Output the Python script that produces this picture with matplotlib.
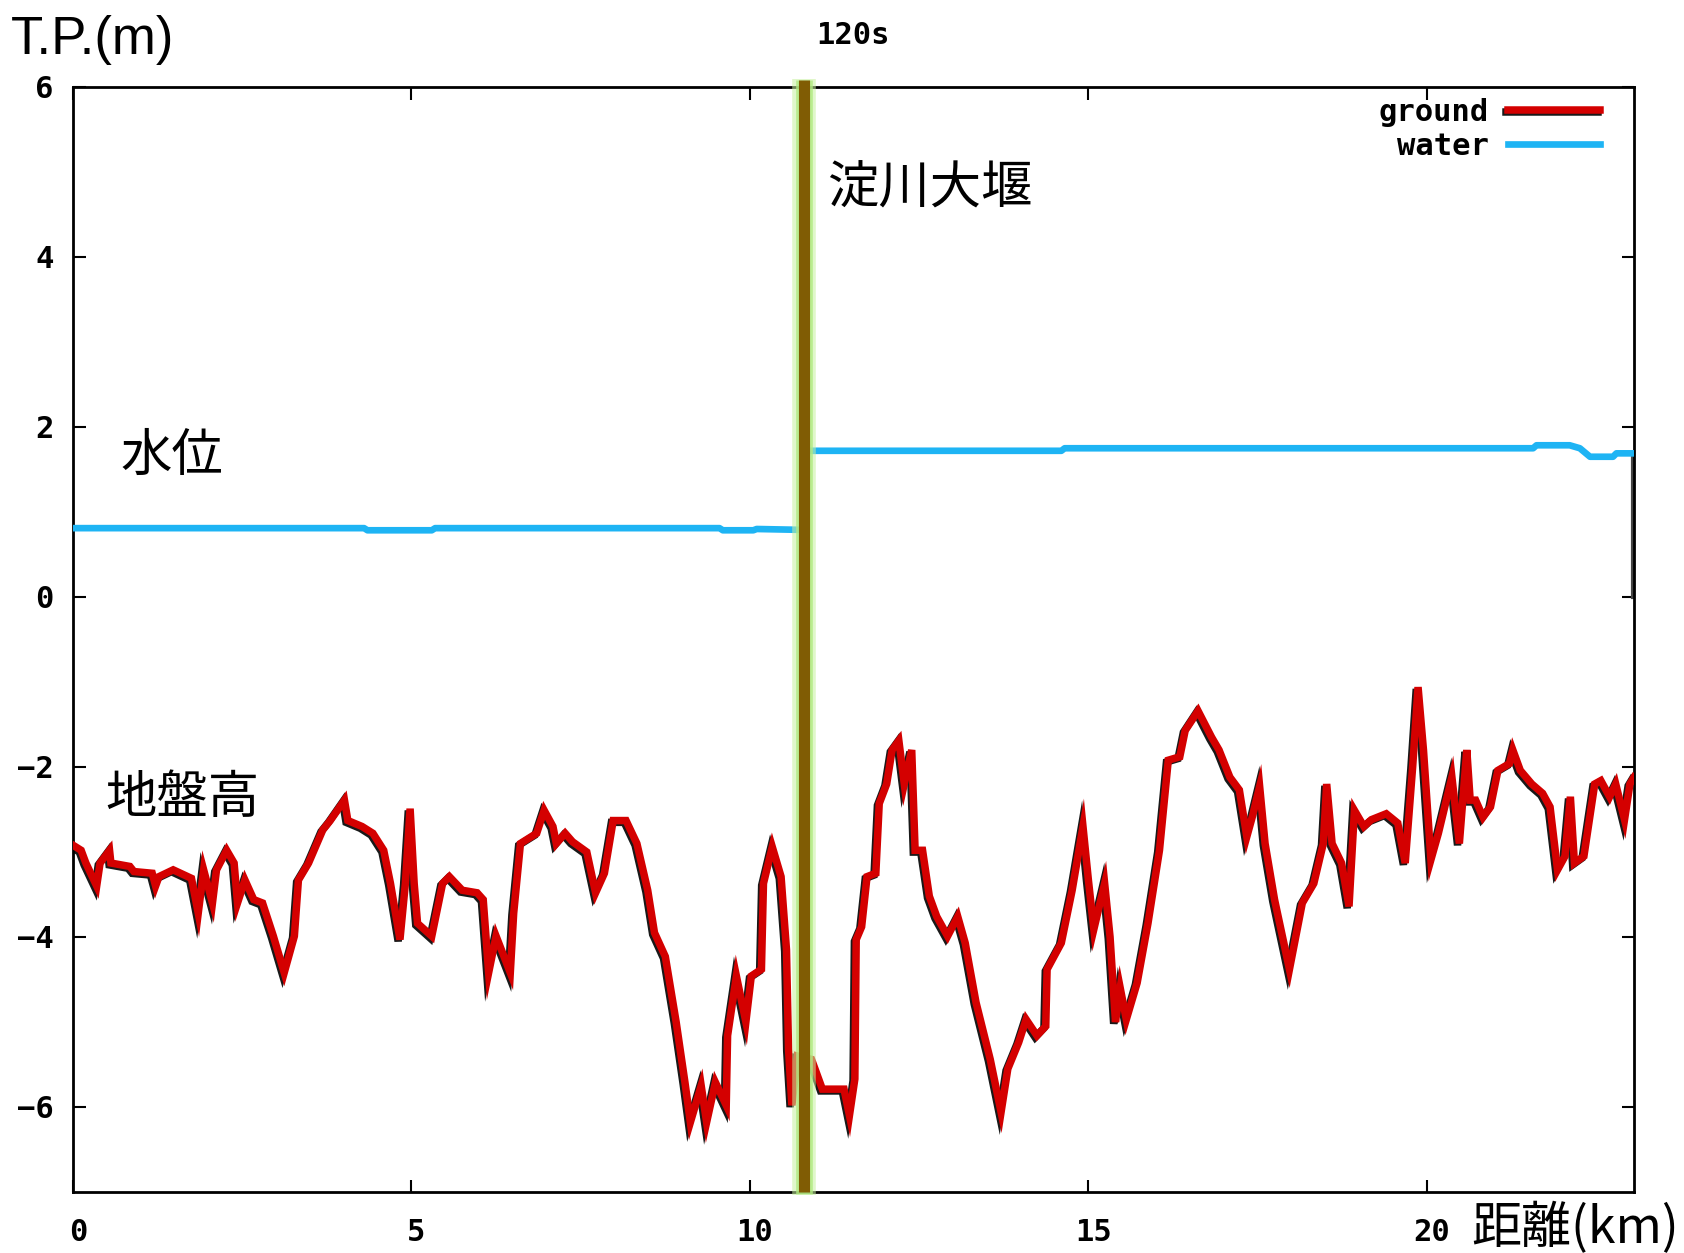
import numpy as np
import matplotlib
matplotlib.use('Agg')
import matplotlib.pyplot as plt
import matplotlib.patheffects as pe
import matplotlib.transforms as mtransforms

plt.rcParams['font.family'] = ['DejaVu Sans Mono']

# distance along the river (km) and ground height T.P.(m)
ground_km = [0.0, 0.12, 0.19, 0.35, 0.4, 0.54, 0.56, 0.84, 0.9, 1.17, 1.22, 1.27,
             1.48, 1.75, 1.85, 1.93, 2.06, 2.12, 2.27, 2.38, 2.43, 2.54, 2.67, 2.8,
             2.96, 3.12, 3.27, 3.33, 3.48, 3.69, 3.8, 4.01, 4.06, 4.27, 4.43, 4.59,
             4.69, 4.83, 4.91, 4.98, 5.04, 5.09, 5.3, 5.46, 5.56, 5.75, 5.97, 6.06,
             6.14, 6.25, 6.46, 6.51, 6.61, 6.85, 6.96, 7.09, 7.14, 7.27, 7.38, 7.59,
             7.72, 7.85, 7.98, 8.17, 8.33, 8.49, 8.59, 8.75, 8.91, 9.04, 9.12, 9.28,
             9.36, 9.49, 9.65, 9.67, 9.8, 9.94, 10.02, 10.17, 10.2, 10.33, 10.46, 10.54,
             10.57, 10.62, 10.7, 10.91, 11.07, 11.39, 11.47, 11.55, 11.57, 11.65, 11.73, 11.86,
             11.91, 12.02, 12.1, 12.2, 12.28, 12.39, 12.44, 12.55, 12.65, 12.76, 12.92, 13.07,
             13.18, 13.34, 13.55, 13.71, 13.81, 13.97, 14.08, 14.24, 14.37, 14.39, 14.6, 14.76,
             14.92, 15.0, 15.08, 15.24, 15.32, 15.4, 15.47, 15.56, 15.72, 15.88, 16.05, 16.18,
             16.35, 16.43, 16.62, 16.82, 16.93, 17.09, 17.23, 17.34, 17.42, 17.53, 17.61, 17.75,
             17.97, 18.16, 18.33, 18.47, 18.52, 18.6, 18.74, 18.85, 18.93, 19.07, 19.18, 19.4,
             19.57, 19.68, 19.79, 19.87, 19.95, 20.06, 20.17, 20.37, 20.48, 20.59, 20.64, 20.72,
             20.83, 20.94, 21.05, 21.22, 21.27, 21.38, 21.55, 21.71, 21.82, 21.93, 22.04, 22.12,
             22.18, 22.32, 22.48, 22.57, 22.7, 22.79, 22.92, 23.0, 23.06]
ground_tp = [-2.92, -2.98, -3.13, -3.4, -3.13, -2.98, -3.13, -3.17, -3.23, -3.25, -3.4, -3.29,
             -3.21, -3.31, -3.72, -3.21, -3.6, -3.21, -2.98, -3.13, -3.6, -3.33, -3.56, -3.6,
             -3.99, -4.42, -3.99, -3.33, -3.13, -2.74, -2.63, -2.39, -2.63, -2.7, -2.78, -2.98,
             -3.37, -4.03, -3.37, -2.49, -3.37, -3.84, -3.99, -3.37, -3.29, -3.45, -3.48, -3.56,
             -4.42, -3.99, -4.42, -3.72, -2.9, -2.78, -2.51, -2.7, -2.9, -2.78, -2.88, -3.0,
             -3.48, -3.25, -2.63, -2.63, -2.9, -3.45, -3.95, -4.23, -5.0, -5.71, -6.18, -5.75,
             -6.18, -5.71, -5.98, -5.16, -4.46, -5.0, -4.46, -4.38, -3.37, -2.94, -3.29, -4.15,
             -5.32, -5.98, -5.4, -5.44, -5.79, -5.79, -6.1, -5.67, -4.03, -3.88, -3.29, -3.25,
             -2.43, -2.2, -1.8, -1.69, -2.2, -1.8, -2.98, -2.98, -3.52, -3.76, -3.99, -3.76,
             -4.07, -4.77, -5.44, -6.06, -5.55, -5.24, -4.97, -5.16, -5.05, -4.38, -4.07, -3.45,
             -2.7, -3.33, -3.91, -3.37, -4.0, -5.0, -4.6, -4.97, -4.54, -3.84, -2.98, -1.92,
             -1.88, -1.57, -1.34, -1.65, -1.8, -2.12, -2.27, -2.82, -2.59, -2.23, -2.9, -3.56,
             -4.38, -3.6, -3.37, -2.9, -2.2, -2.9, -3.13, -3.64, -2.51, -2.7, -2.62, -2.55,
             -2.66, -3.13, -2.0, -1.06, -1.8, -3.09, -2.78, -2.12, -2.9, -1.8, -2.39, -2.39,
             -2.59, -2.47, -2.04, -1.96, -1.8, -2.04, -2.2, -2.31, -2.47, -3.21, -3.05, -2.35,
             -3.13, -3.05, -2.2, -2.16, -2.35, -2.2, -2.62, -2.2, -2.12]

# water level below the weir
water_down_km = [0.0, 4.3, 4.35, 5.3, 5.35, 9.55, 9.6, 10.05, 10.1, 10.75]
water_down_tp = [0.81, 0.81, 0.785, 0.785, 0.81, 0.81, 0.785, 0.785, 0.80, 0.79]

# water level above the weir
water_up_km = [10.85, 14.6, 14.65, 21.57, 21.62, 22.11, 22.26, 22.41, 22.75, 22.8, 23.04]
water_up_tp = [1.72, 1.72, 1.75, 1.75, 1.785, 1.785, 1.75, 1.65, 1.65, 1.69, 1.69]

# weir position (km) and the edge line at the upstream end
weir_km = 10.8
edge_km = [23.04, 23.04]
edge_tp = [1.69, 0.0]

x_ticks = [0, 5, 10, 15, 20]
y_ticks = [-6, -4, -2, 0, 2, 4, 6]

jp = ['Noto Sans CJK JP', 'DejaVu Sans']


def plot_profile():

	fig = plt.figure(figsize=(16.84, 12.53), dpi=100)
	ax = fig.add_axes([73/1684, 1 - 1192/1253, 1561/1684, 1105/1253])

	# ground with a dark shadow edge like gnuplot
	ax.plot(ground_km, ground_tp, color='#d40000', lw=5.4, solid_joinstyle='miter',
			label='ground', zorder=3,
			path_effects=[pe.SimpleLineShadow(offset=(-1.3, -1.3), shadow_color='black', alpha=0.9),
						  pe.Normal()])
	ax.plot(water_down_km, water_down_tp, color='#1eb4f4', lw=4.8, label='water', zorder=3)
	ax.plot(water_up_km, water_up_tp, color='#1eb4f4', lw=4.8, zorder=3)
	ax.plot(edge_km, edge_tp, color='#444444', lw=3, zorder=2, clip_on=False)

	# the weir line, with a soft light green glow
	ax.plot([weir_km, weir_km], [-7.03, 6.09], color='#c8f2a0', lw=17, alpha=0.55, zorder=4,
			clip_on=False, solid_capstyle='butt')
	ax.plot([weir_km, weir_km], [-7.02, 6.085], color='#b0ea80', lw=12, alpha=0.8, zorder=4,
			clip_on=False, solid_capstyle='butt')
	ax.plot([weir_km, weir_km], [-7, 6.08], color='#805c04', lw=8, zorder=5, clip_on=False,
			solid_capstyle='butt')

	ax.set_xlim(0, 23.06)
	ax.set_ylim(-7, 6)
	ax.set_xticks(x_ticks)
	ax.set_yticks(y_ticks)
	ax.tick_params(direction='in', length=9, width=1.5, top=True, right=True,
				   labelsize=22, pad=14)
	ax.tick_params(axis='x', pad=19)
	shift = mtransforms.ScaledTranslation(5/100, 0, fig.dpi_scale_trans)
	for lab in ax.get_xticklabels():
		lab.set_transform(lab.get_transform() + shift)
	for lab in ax.get_xticklabels() + ax.get_yticklabels():
		lab.set_fontweight('bold')
	for s in ax.spines.values():
		s.set_linewidth(2)

	leg = ax.legend(loc='upper right', bbox_to_anchor=(0.978, 0.99), frameon=False,
					markerfirst=False, borderpad=0, borderaxespad=0, handlelength=3.0,
					handletextpad=0.62, labelspacing=0.15,
					prop={'family': 'DejaVu Sans Mono', 'weight': 'bold', 'size': 22})

	# labels
	fig.text(0.0065, 0.957, 'T.P.(m)', fontsize=38, family='Liberation Sans', va='baseline')
	fig.text(0.5067, 0.9717, '120s', fontsize=22, fontweight='bold', ha='center', va='center')
	fig.text(0.8736, 0.019, '距離(km)', fontsize=36, family=jp, va='center')
	ax.text(11.14, 4.8, '淀川大堰', fontsize=37, family=jp, va='center')
	ax.text(0.70, 1.66, '水位', fontsize=37, family=jp, va='center')
	ax.text(0.48, -2.37, '地盤高', fontsize=37, family=jp, va='center')

	fig.savefig('out.png', dpi=100)


def main():
	plot_profile()


if __name__ == '__main__':
	main()
